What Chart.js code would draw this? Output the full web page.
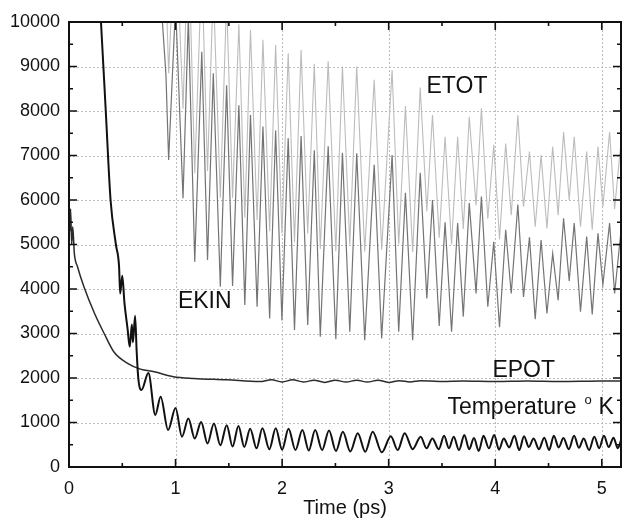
<!DOCTYPE html>
<html>
<head>
<meta charset="utf-8">
<script src="https://cdn.jsdelivr.net/npm/chart.js@4.4.1/dist/chart.umd.min.js"></script>
<style>
  html, body { margin: 0; background: #fff; }
  canvas { display: block; }
</style>
</head>
<body>
<canvas id="mdChart" width="624" height="528"></canvas>
<script>
// values (time in ps, energy / temperature)
const xMajor = [0, 1, 2, 3, 4, 5];
const xMinor = [0.5, 1.5, 2.5, 3.5, 4.5];
const yMajor = [0, 1000, 2000, 3000, 4000, 5000, 6000, 7000, 8000, 9000, 10000];
const yMinor = [500, 1500, 2500, 3500, 4500, 5500, 6500, 7500, 8500, 9500];

// EKIN and ETOT share the same turning points
const oscTime = [0.86, 0.91, 0.935, 1.00, 1.07, 1.12, 1.18, 1.246, 1.30, 1.354,
  1.42, 1.479, 1.535, 1.594, 1.65, 1.703, 1.765, 1.82, 1.883, 1.939,
  1.998, 2.057, 2.116, 2.178, 2.24, 2.302, 2.358, 2.432, 2.504, 2.566,
  2.635, 2.70, 2.775, 2.864, 2.934, 3.032, 3.094, 3.157, 3.225, 3.296,
  3.358, 3.411, 3.474, 3.529, 3.59, 3.647, 3.70, 3.756, 3.82, 3.87,
  3.93, 3.986, 4.04, 4.098, 4.15, 4.212, 4.265, 4.321, 4.375, 4.43,
  4.485, 4.539, 4.59, 4.641, 4.694, 4.741, 4.80, 4.858, 4.91, 4.964,
  5.01, 5.073, 5.12, 5.18];

const ekinVal = [10600, 8800, 6900, 10400, 6040, 10100, 4610, 9330, 4650, 8850,
  4050, 8580, 4070, 8130, 3640, 7910, 3600, 7650, 3340, 7560,
  3290, 7390, 3080, 7440, 3190, 7120, 2930, 7210, 2870, 7060,
  3040, 7050, 2850, 6790, 2890, 7010, 3040, 6160, 2850, 6610,
  3790, 6000, 3170, 5500, 3040, 5480, 3380, 5930, 3900, 6080,
  3600, 5060, 3140, 5330, 3900, 5900, 3820, 5160, 3320, 5100,
  3450, 4800, 3750, 5590, 4180, 5480, 3490, 5180, 3430, 5250,
  4100, 5480, 3900, 5300];

const etotVal = [12500, 10800, 8850, 12300, 8050, 12000, 6600, 11250, 6650, 10800,
  6050, 10500, 6050, 9950, 5600, 9820, 5550, 9600, 5300, 9480,
  5250, 9300, 5050, 9370, 5250, 9060, 4900, 9120, 4850, 9000,
  5000, 9000, 4840, 8700, 4880, 8920, 5000, 8110, 4830, 8530,
  5750, 7910, 5150, 7420, 5000, 7420, 5350, 7870, 5880, 8060,
  5580, 7240, 5120, 7270, 5660, 7910, 5850, 7090, 5400, 7010,
  5360, 7200, 5660, 7530, 6000, 7420, 5400, 7090, 5330, 7200,
  5850, 7530, 5800, 7300];

const epotTime = [0, 0.008, 0.015, 0.025, 0.035, 0.05, 0.08, 0.14, 0.24, 0.33,
  0.42, 0.55, 0.67, 0.80, 0.98, 1.17, 1.48, 1.79, 1.9, 2.0,
  2.1, 2.2, 2.3, 2.4, 2.5, 2.6, 2.7, 2.8, 2.9, 3.0,
  3.1, 3.2, 3.3, 3.5, 3.7, 4.0, 4.3, 4.6, 5.0, 5.18];
const epotVal = [6000, 5300, 5800, 5000, 5400, 4800, 4500, 4050, 3450, 3000,
  2590, 2330, 2200, 2140, 2030, 1990, 1960, 1920, 1960, 1910,
  1960, 1910, 1950, 1900, 1950, 1910, 1950, 1910, 1950, 1900,
  1940, 1910, 1940, 1920, 1930, 1920, 1930, 1920, 1930, 1930];

const tempTime = [0.285, 0.30, 0.345, 0.39, 0.44, 0.47, 0.48, 0.50, 0.52, 0.55,
  0.57, 0.59, 0.60, 0.62, 0.635, 0.65, 0.68, 0.745, 0.81, 0.86,
  0.93, 1.00, 1.06, 1.12, 1.18, 1.24, 1.30, 1.36, 1.42, 1.48,
  1.535, 1.59, 1.645, 1.70, 1.76, 1.815, 1.88, 1.94, 2.00, 2.06,
  2.125, 2.19, 2.25, 2.31, 2.375, 2.44, 2.505, 2.57, 2.64, 2.71,
  2.78, 2.85, 2.935, 3.02, 3.085, 3.15, 3.225, 3.30, 3.355, 3.41,
  3.47, 3.52, 3.565, 3.61, 3.66, 3.71, 3.755, 3.80, 3.845, 3.89,
  3.94, 3.99, 4.035, 4.08, 4.13, 4.18, 4.225, 4.27, 4.315, 4.36,
  4.41, 4.46, 4.505, 4.55, 4.595, 4.64, 4.69, 4.74, 4.785, 4.83,
  4.88, 4.93, 4.975, 5.02, 5.065, 5.11, 5.15, 5.18];
const tempVal = [10600, 10000, 8000, 6000, 5000, 4500, 3900, 4300, 3700, 3100,
  2700, 3200, 2800, 3400, 2600, 2000, 1730, 2110, 1170, 1580,
  830, 1325, 680, 1090, 640, 1010, 530, 980, 490, 940,
  460, 920, 450, 860, 420, 870, 400, 870, 390, 860,
  380, 830, 370, 830, 380, 820, 360, 790, 350, 760,
  340, 790, 330, 690, 380, 760, 400, 680, 420, 640,
  400, 700, 420, 680, 380, 720, 400, 650, 360, 700,
  420, 720, 390, 640, 440, 700, 380, 690, 450, 640,
  400, 660, 380, 700, 440, 650, 400, 700, 430, 640,
  380, 680, 420, 700, 450, 660, 420, 600];

// curve labels, anchored in data units
const labelText = ["ETOT", "EKIN", "EPOT"];
const labelX = [3.355, 1.022, 3.973];
const labelY = [8404, 3573, 2022];

const FONT = "'Liberation Sans', Arial, sans-serif";

function pts(ts, vs) {
    return ts.map((t, i) => ({ x: t, y: vs[i] }));
}

// dotted grid, framed box with inward ticks, curve captions
const frame = {
    id: "frame",
    beforeDatasetsDraw(chart) {
        const { ctx, chartArea: a, scales: { x, y } } = chart;
        ctx.save();
        ctx.strokeStyle = "#bdbdbd";
        ctx.lineWidth = 1;
        ctx.setLineDash([2, 2]);
        xMajor.forEach(v => {
            if (v === 0) return;
            const px = Math.round(x.getPixelForValue(v)) + 0.5;
            ctx.beginPath(); ctx.moveTo(px, a.top); ctx.lineTo(px, a.bottom); ctx.stroke();
        });
        yMajor.forEach(v => {
            if (v === 0 || v === 10000) return;
            const py = Math.round(y.getPixelForValue(v)) + 0.5;
            ctx.beginPath(); ctx.moveTo(a.left, py); ctx.lineTo(a.right, py); ctx.stroke();
        });
        ctx.restore();
    },
    afterDatasetsDraw(chart) {
        const { ctx, chartArea: a, scales: { x, y } } = chart;
        ctx.save();
        ctx.strokeStyle = "#111";
        ctx.lineWidth = 2;
        ctx.strokeRect(a.left, a.top, a.right - a.left, a.bottom - a.top);

        ctx.lineWidth = 1.6;
        const tickX = (v, len) => {
            const px = x.getPixelForValue(v);
            ctx.beginPath();
            ctx.moveTo(px, a.bottom); ctx.lineTo(px, a.bottom - len);
            ctx.moveTo(px, a.top); ctx.lineTo(px, a.top + len);
            ctx.stroke();
        };
        const tickY = (v, len) => {
            const py = y.getPixelForValue(v);
            ctx.beginPath();
            ctx.moveTo(a.left, py); ctx.lineTo(a.left + len, py);
            ctx.moveTo(a.right, py); ctx.lineTo(a.right - len, py);
            ctx.stroke();
        };
        xMajor.forEach(v => tickX(v, 8));
        xMinor.forEach(v => tickX(v, 4));
        yMajor.forEach(v => tickY(v, 8));
        yMinor.forEach(v => tickY(v, 4));

        ctx.fillStyle = "#111";
        ctx.textBaseline = "alphabetic";
        ctx.textAlign = "left";
        ctx.font = "23px " + FONT;
        labelText.forEach((t, i) => {
            ctx.fillText(t, x.getPixelForValue(labelX[i]), y.getPixelForValue(labelY[i]));
        });

        // Temperature ° K
        const tx = x.getPixelForValue(3.551);
        const ty = y.getPixelForValue(1191);
        ctx.fillText("Temperature", tx, ty);
        const w = ctx.measureText("Temperature").width;
        ctx.fillText("K", tx + w + 22, ty);
        ctx.font = "13px " + FONT;
        ctx.fillText("o", tx + w + 8, ty - 10);
        ctx.restore();
    }
};

new Chart(document.getElementById("mdChart"), {
    type: "line",
    data: {
        datasets: [
            {
                label: "Temperature",
                data: pts(tempTime, tempVal),
                borderColor: "#111",
                borderWidth: 2,
                cubicInterpolationMode: "monotone"
            },
            {
                label: "EPOT",
                data: pts(epotTime, epotVal),
                borderColor: "#2b2b2b",
                borderWidth: 1.5,
                cubicInterpolationMode: "monotone"
            },
            {
                label: "EKIN",
                data: pts(oscTime, ekinVal),
                borderColor: "#747474",
                borderWidth: 1.2,
                tension: 0
            },
            {
                label: "ETOT",
                data: pts(oscTime, etotVal),
                borderColor: "#bcbcbc",
                borderWidth: 1.1,
                tension: 0
            }
        ]
    },
    options: {
        responsive: false,
        animation: false,
        layout: { padding: { top: 22, right: 3, left: 0, bottom: 0 } },
        elements: { point: { radius: 0 } },
        plugins: { legend: { display: false }, tooltip: { enabled: false } },
        scales: {
            x: {
                type: "linear",
                min: 0,
                max: 5.18,
                afterBuildTicks: s => { s.ticks = xMajor.map(v => ({ value: v })); },
                afterFit: s => { s.height = 61; },
                grid: { display: false, drawTicks: false },
                border: { display: false },
                ticks: {
                    padding: 11,
                    color: "#111",
                    font: { family: FONT, size: 18 },
                    callback: v => String(v)
                },
                title: {
                    display: true,
                    text: "Time (ps)",
                    color: "#111",
                    font: { family: FONT, size: 20 },
                    padding: { top: 0, bottom: 8 }
                }
            },
            y: {
                min: 0,
                max: 10000,
                afterBuildTicks: s => { s.ticks = yMajor.map(v => ({ value: v })); },
                afterFit: s => { s.width = 69; },
                grid: { display: false, drawTicks: false },
                border: { display: false },
                ticks: {
                    padding: 9,
                    color: "#111",
                    font: { family: FONT, size: 18 },
                    callback: v => String(v)
                }
            }
        }
    },
    plugins: [frame]
});
</script>
</body>
</html>
